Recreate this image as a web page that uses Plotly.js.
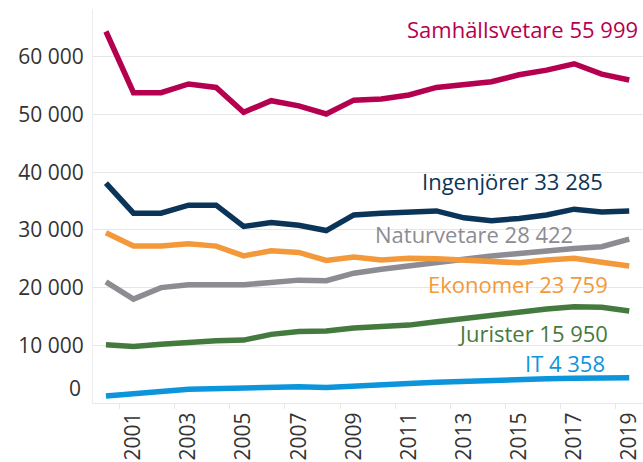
<!DOCTYPE html>
<html>
<head>
<meta charset="utf-8">
<script src="https://cdn.plot.ly/plotly-3.0.1.min.js"></script>
<style>html,body{margin:0;padding:0;background:#fff;}#chart{width:643px;height:462px;}</style>
</head>
<body>
<div id="chart"></div>
<script>
const years = [2000,2001,2002,2003,2004,2005,2006,2007,2008,2009,2010,2011,2012,2013,2014,2015,2016,2017,2018,2019];
const samhallsvetare = [64400,53800,53800,55300,54700,50400,52400,51500,50100,52500,52700,53400,54700,55100,55700,56900,57700,58800,57000,55999];
const ingenjorer = [38100,32900,32900,34300,34300,30600,31300,30800,29900,32600,32900,33100,33300,32100,31600,32000,32600,33600,33100,33285];
const naturvetare = [21000,18000,20000,20500,20500,20500,20900,21300,21200,22500,23200,23800,24500,25100,25500,25900,26400,26800,27100,28422];
const ekonomer = [29500,27200,27200,27600,27200,25500,26400,26100,24700,25300,24800,25100,25000,24700,24500,24300,24800,25100,24400,23759];
const jurister = [10100,9800,10200,10600,10800,10900,11900,12400,12500,13000,13200,13500,14100,14700,15300,15700,16300,16700,16600,15950];
const it = [1200,1500,2000,2400,2500,2500,2800,2800,2700,3000,3300,3400,3600,3800,4000,4100,4200,4300,4300,4358];

const seriesNames = ["Samhällsvetare","Ingenjörer","Naturvetare","Ekonomer","Jurister","IT"];
const seriesLabels = ["Samhällsvetare 55 999","Ingenjörer 33 285","Naturvetare 28 422","Ekonomer 23 759","Jurister 15 950","IT 4 358"];
const seriesColors = ["#b5004f","#0b3558","#8d8c93","#f3993a","#457a3e","#0d95dc"];
const seriesData = [samhallsvetare, ingenjorer, naturvetare, ekonomer, jurister, it];

const xTickVals = [2001,2003,2005,2007,2009,2011,2013,2015,2017,2019];
const yTickVals = [10000,20000,30000,40000,50000,60000];
const yTickText = ["10 000","20 000","30 000","40 000","50 000","60 000"];

// label anchor positions (data coords) for direct labels
const labelX = [2019.39,2018.12,2017.03,2018.30,2018.30,2018.19];
const labelY = [64900,38490,29250,20700,12100,7000];

const FONT = "Open Sans, sans-serif";

const traces = seriesData.map((d,i)=>({
  x: years, y: d, type:'scatter', mode:'lines', name: seriesNames[i],
  line:{color: seriesColors[i], width:5.5, shape:'linear'},
  hoverinfo:'skip'
}));

const annotations = seriesLabels.map((t,i)=>({
  x: labelX[i], y: labelY[i], xref:'x', yref:'y', text:t, showarrow:false,
  xanchor:'right', yanchor:'middle',
  font:{family:FONT, size:22, color: seriesColors[i]}
}));
annotations.push({
  x:0, xref:'paper', xanchor:'right', xshift:-10, y:2600, yref:'y', yanchor:'middle',
  text:'0', showarrow:false, font:{family:FONT, size:21, color:'#333333'}
});

const layout = {
  width:643, height:462,
  margin:{l:93, r:0, t:9, b:59},
  paper_bgcolor:'#ffffff', plot_bgcolor:'#ffffff',
  showlegend:false,
  font:{family:FONT, size:21, color:'#333333'},
  xaxis:{
    range:[1999.53,2019.5], tickvals:xTickVals, ticktext:xTickVals.map(String),
    tickangle:-90, showgrid:false, zeroline:false,
    showline:true, linecolor:'#e8e8e8', linewidth:1,
    ticks:'', ticklen:0,
    minor:{tick0:2000.5, dtick:2, ticks:'outside', ticklen:5, tickcolor:'#e8e8e8', showgrid:false},
    tickfont:{family:FONT, size:21, color:'#333333'}
  },
  yaxis:{
    range:[0,68300], tickvals:yTickVals, ticktext:yTickText,
    showgrid:true, gridcolor:'#e6e6e6', gridwidth:1, zeroline:false,
    showline:true, linecolor:'#ececec', linewidth:1,
    ticks:'', ticklabelstandoff:4,
    tickfont:{family:FONT, size:21, color:'#333333'}
  },
  annotations: annotations
};

Plotly.newPlot('chart', traces, layout, {displayModeBar:false, staticPlot:true});
</script>
</body>
</html>
